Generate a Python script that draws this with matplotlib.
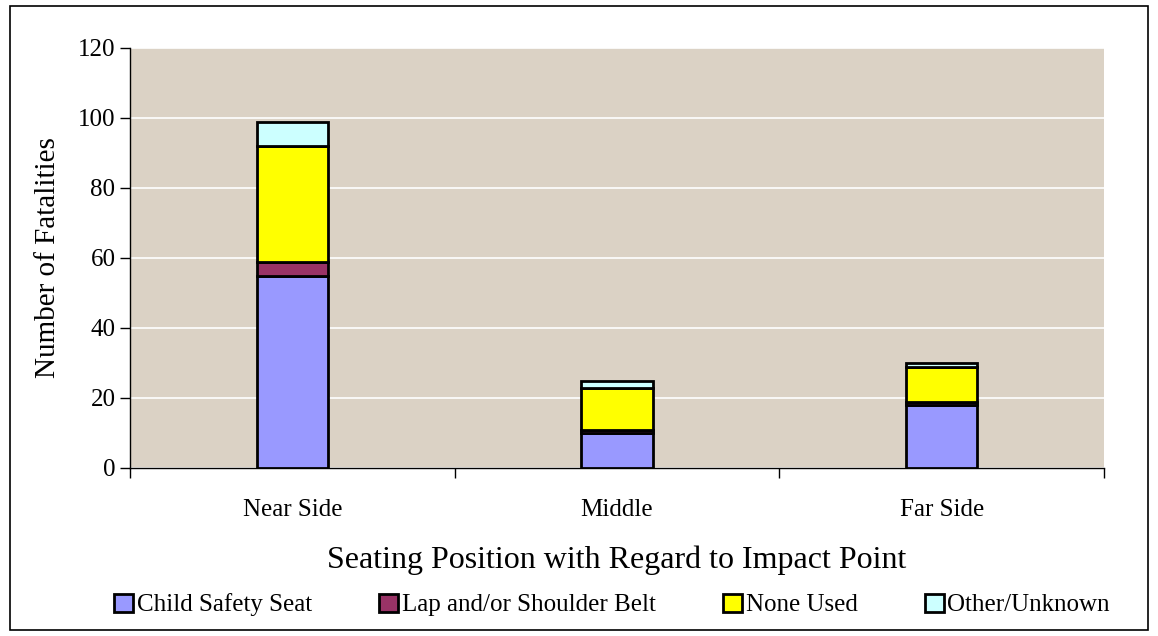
import matplotlib.pyplot as plt
from matplotlib.patches import Rectangle
import numpy as np

plt.rcParams['font.family'] = ['Liberation Serif', 'DejaVu Serif']

positions = ['Near Side', 'Middle', 'Far Side']
child_seat = [55, 10, 18]
lap_belt = [4, 1, 1]
none_used = [33, 12, 10]
other = [7, 2, 1]

series = [
    ('Child Safety Seat', child_seat, '#9999ff'),
    ('Lap and/or Shoulder Belt', lap_belt, '#993366'),
    ('None Used', none_used, '#ffff00'),
    ('Other/Unknown', other, '#ccffff'),
]

fig = plt.figure(figsize=(11.58, 6.36), dpi=100)
ax = fig.add_axes([130/1158, 1 - 468/636, (1104-130)/1158, (468-48)/636])
ax.set_facecolor('#dbd2c5')

x = np.arange(len(positions))
bottom = np.zeros(len(positions))
for name, vals, col in series:
    ax.bar(x, vals, width=0.22, bottom=bottom, color=col, edgecolor='black',
           linewidth=2, label=name, zorder=3)
    bottom += np.array(vals)

ax.set_xlim(-0.5, 2.5)
ax.set_ylim(0, 120)
ax.set_yticks(range(0, 121, 20))
ax.yaxis.grid(True, color='white', linewidth=1.2, zorder=0)
ax.set_axisbelow(True)
ax.set_xticks(x)
ax.set_xticklabels(positions, fontsize=18)
ax.tick_params(axis='x', which='major', length=0, pad=22)
ax.set_xticks([-0.5, 0.5, 1.5, 2.5], minor=True)
ax.tick_params(axis='x', which='minor', length=7, width=1, direction='out')
ax.tick_params(axis='y', labelsize=18, length=7, width=1, direction='out')
for s in ['top', 'right']:
    ax.spines[s].set_visible(False)
ax.spines['left'].set_linewidth(1)
ax.spines['bottom'].set_linewidth(1)

ax.set_ylabel('Number of Fatalities', fontsize=21, labelpad=12)
ax.set_xlabel('Seating Position with Regard to Impact Point', fontsize=23, labelpad=18)

leg = fig.legend(loc='center', bbox_to_anchor=(612/1158, 1 - 605/636), ncol=4,
                 frameon=False, fontsize=18, handlelength=0.75, handleheight=0.75,
                 handletextpad=0.15, columnspacing=2.7)

fig.patches.append(Rectangle((10/1158, 6/636), 1138/1158, 624/636, transform=fig.transFigure,
                             fill=False, edgecolor='black', linewidth=1.2))

fig.savefig('out.png', dpi=100)
